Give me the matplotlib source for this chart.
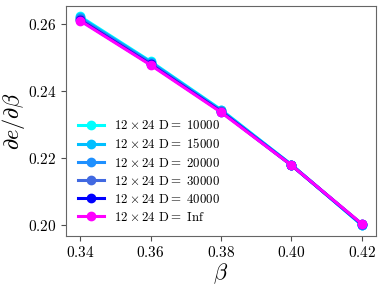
import numpy as np
import matplotlib
matplotlib.use("Agg")
import matplotlib.pyplot as plt
from matplotlib.ticker import FormatStrFormatter

plt.rcParams['mathtext.fontset'] = 'cm'
plt.rcParams['font.family'] = 'serif'

beta = [0.34, 0.36, 0.38, 0.40, 0.42]
labels = ['10000', '15000', '20000', '30000', '40000', 'Inf']
colors = ['cyan', 'deepskyblue', 'dodgerblue', 'royalblue', 'blue', 'magenta']
d10000 = [0.2623, 0.2489, 0.2345, 0.2181, 0.2000]
d15000 = [0.2620, 0.2487, 0.2343, 0.2180, 0.2001]
d20000 = [0.2617, 0.2485, 0.2342, 0.2180, 0.2002]
d30000 = [0.2614, 0.2482, 0.2340, 0.2179, 0.2003]
d40000 = [0.2612, 0.2480, 0.2339, 0.2179, 0.2003]
dinf = [0.2610, 0.2478, 0.2337, 0.2179, 0.2004]
series = [d10000, d15000, d20000, d30000, d40000, dinf]

fig = plt.figure(figsize=(3.82, 2.87), dpi=100)
ax = fig.add_axes([0.173, 0.179, 0.811, 0.800])

for vals, lab, c in zip(series, labels, colors):
    ax.plot(beta, vals, marker='o', color=c, lw=2.2, ms=6,
            label=r'$12\times24\ \mathrm{D{=}\ %s}$' % lab)

ax.set_xticks([0.34, 0.36, 0.38, 0.40, 0.42])
ax.set_yticks([0.20, 0.22, 0.24, 0.26])
ax.xaxis.set_major_formatter(FormatStrFormatter(r'$%.2f$'))
ax.yaxis.set_major_formatter(FormatStrFormatter(r'$%.2f$'))
ax.tick_params(labelsize=11, color='0.3')
for s in ax.spines.values():
    s.set_color('0.4')

ax.set_xlabel(r'$\beta$', fontsize=16, labelpad=1)
ax.set_ylabel(r'$\partial e/\partial \beta$', fontsize=16)
ax.yaxis.set_label_coords(-0.125, 0.5)
ax.legend(loc='lower left', frameon=False, fontsize=9.3, labelspacing=0.4)

fig.savefig('out.png', dpi=100)
